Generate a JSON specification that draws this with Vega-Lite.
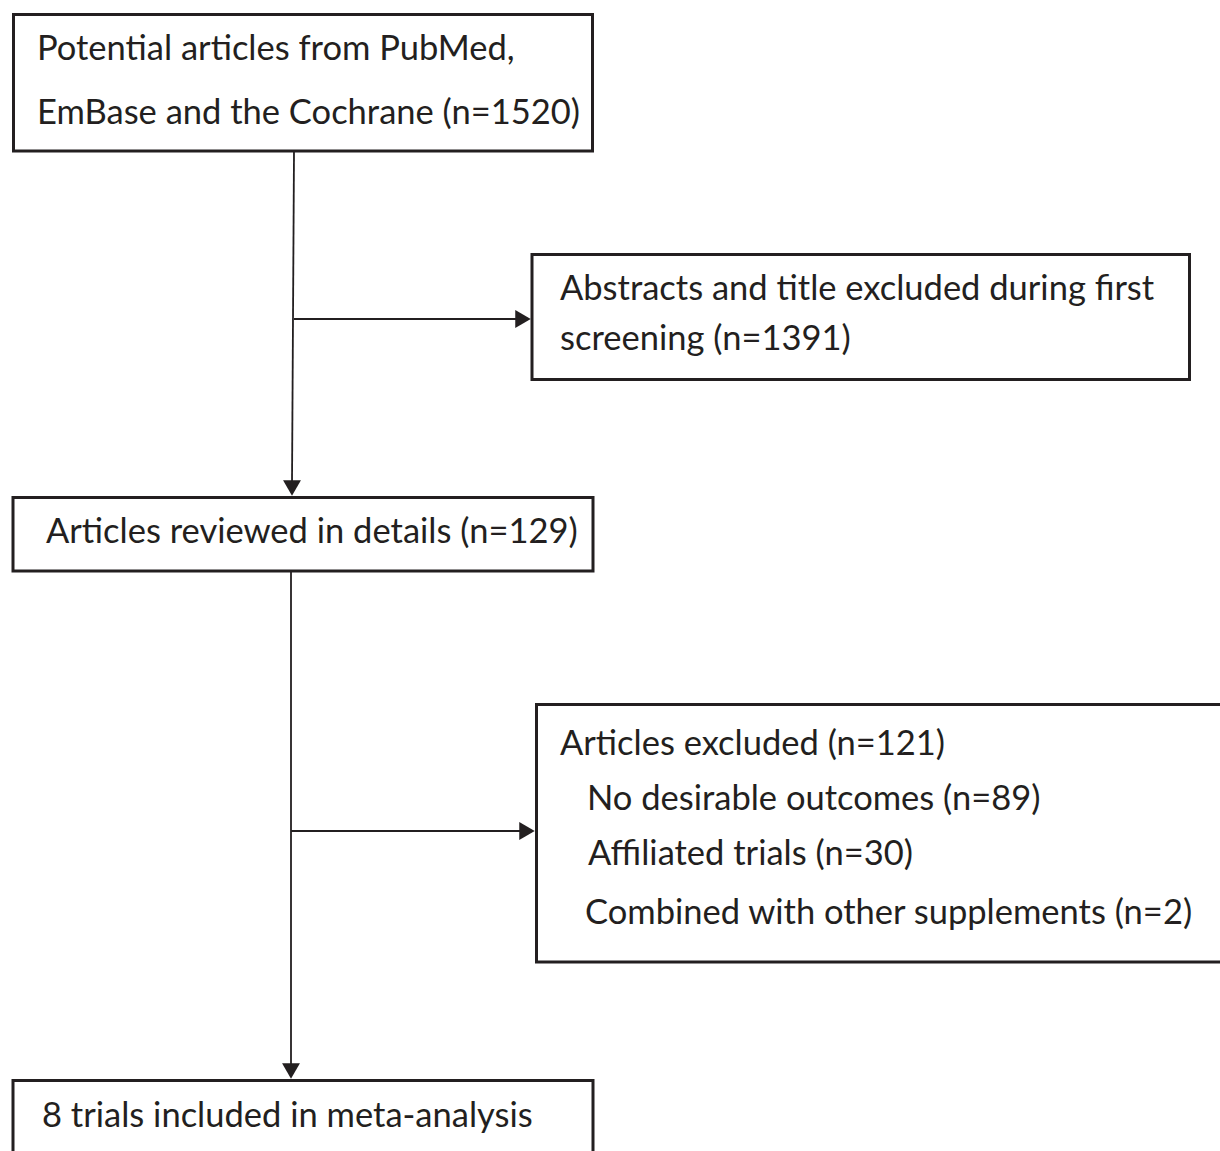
{
  "$schema": "https://vega.github.io/schema/vega-lite/v6.json",
  "width": 1220,
  "height": 1151,
  "autosize": {"type": "fit", "contains": "padding"},
  "padding": 0,
  "background": "white",
  "config": {"view": {"stroke": null}},
  "datasets": {
    "boxes": [
      {"id": "search", "x": 13.5, "x2": 592.5, "y": 14.5, "y2": 151},
      {"id": "excluded1", "x": 532, "x2": 1189.5, "y": 254.5, "y2": 379.5},
      {"id": "reviewed", "x": 13, "x2": 593, "y": 497.5, "y2": 571},
      {"id": "excluded2", "x": 536.5, "x2": 1240, "y": 704.5, "y2": 962},
      {"id": "included", "x": 13, "x2": 593, "y": 1080.5, "y2": 1175}
    ],
    "lines": [
      {"x": 294, "y": 152, "x2": 292, "y2": 484},
      {"x": 294, "y": 319, "x2": 519, "y2": 319},
      {"x": 291, "y": 572, "x2": 291, "y2": 1067},
      {"x": 291, "y": 831, "x2": 523, "y2": 831}
    ],
    "arrows": [
      {"x": 292, "y": 488, "dir": "triangle-down"},
      {"x": 523, "y": 319, "dir": "triangle-right"},
      {"x": 291, "y": 1071, "dir": "triangle-down"},
      {"x": 527, "y": 831, "dir": "triangle-right"}
    ],
    "labels": [
      {"x": 37, "y": 50, "text": "Potential articles from PubMed,"},
      {"x": 37, "y": 114, "text": "EmBase and the Cochrane (n=1520)"},
      {"x": 560, "y": 290, "text": "Abstracts and title excluded during first"},
      {"x": 560, "y": 340, "text": "screening (n=1391)"},
      {"x": 46, "y": 533, "text": "Articles reviewed in details (n=129)"},
      {"x": 560, "y": 745, "text": "Articles excluded (n=121)"},
      {"x": 587, "y": 800, "text": "No desirable outcomes (n=89)"},
      {"x": 588, "y": 855, "text": "Affiliated trials (n=30)"},
      {"x": 585, "y": 914, "text": "Combined with other supplements (n=2)"},
      {"x": 42, "y": 1117, "text": "8 trials included in meta-analysis"}
    ]
  },
  "layer": [
    {
      "data": {"name": "boxes"},
      "mark": {"type": "rect", "fill": "white", "stroke": "#231f20", "strokeWidth": 3, "clip": true},
      "encoding": {
        "x": {"field": "x", "type": "quantitative", "scale": {"domain": [0, 1220], "nice": false, "zero": false}, "axis": null},
        "x2": {"field": "x2"},
        "y": {"field": "y", "type": "quantitative", "scale": {"domain": [0, 1151], "reverse": true, "nice": false, "zero": false}, "axis": null},
        "y2": {"field": "y2"}
      }
    },
    {
      "data": {"name": "lines"},
      "mark": {"type": "rule", "stroke": "#231f20", "strokeWidth": 1.8},
      "encoding": {
        "x": {"field": "x", "type": "quantitative"},
        "x2": {"field": "x2"},
        "y": {"field": "y", "type": "quantitative"},
        "y2": {"field": "y2"}
      }
    },
    {
      "data": {"name": "arrows"},
      "mark": {"type": "point", "filled": true, "color": "#231f20", "size": 320, "opacity": 1},
      "encoding": {
        "x": {"field": "x", "type": "quantitative"},
        "y": {"field": "y", "type": "quantitative"},
        "shape": {"field": "dir", "type": "nominal", "scale": {"domain": ["triangle-down", "triangle-right"], "range": ["triangle-down", "triangle-right"]}, "legend": null}
      }
    },
    {
      "data": {"name": "labels"},
      "mark": {"type": "text", "align": "left", "baseline": "middle", "font": "Lato", "fontSize": 34.5, "color": "#231f20"},
      "encoding": {
        "x": {"field": "x", "type": "quantitative"},
        "y": {"field": "y", "type": "quantitative"},
        "text": {"field": "text"}
      }
    }
  ]
}
